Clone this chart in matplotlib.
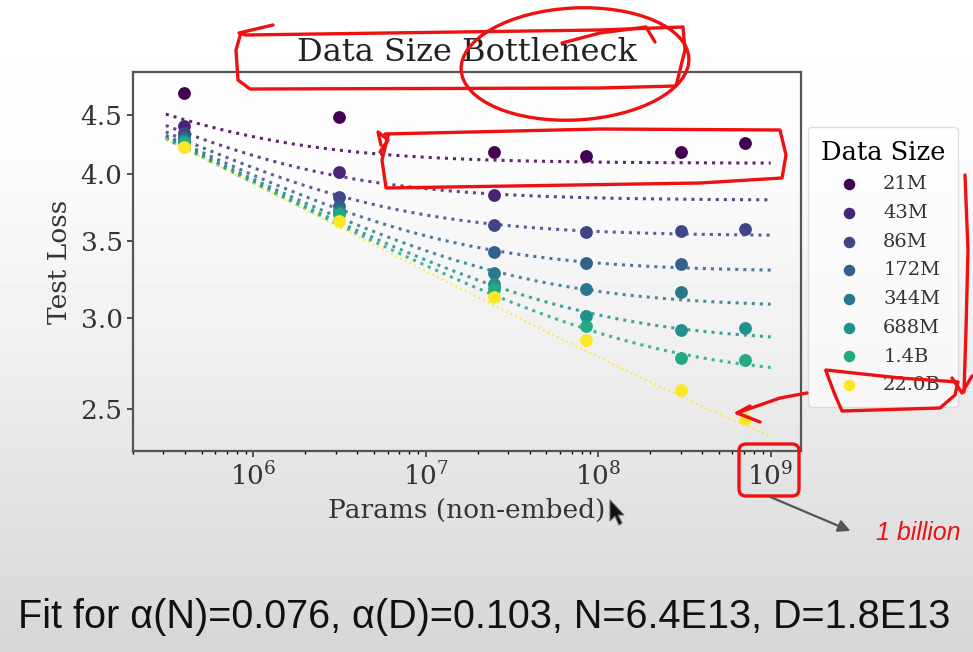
import numpy as np
import matplotlib
matplotlib.use("Agg")
from matplotlib import pyplot as plt
from matplotlib import ticker
from matplotlib.patches import Ellipse, FancyBboxPatch, Polygon

# fit parameters for L(N, D)
ALPHA_N = 0.076
ALPHA_D = 0.103
N_C = 6.4e13
D_C = 1.8e13

# model sizes (non-embedding params)
params = [3.93e5, 3.15e6, 2.5e7, 8.5e7, 3.02e8, 7.08e8]

# dataset sizes in tokens and legend labels
data_sizes = [2.1e7, 4.3e7, 8.6e7, 1.72e8, 3.44e8, 6.88e8, 1.4e9, 2.2e10]
size_labels = ["21M", "43M", "86M", "172M", "344M", "688M", "1.4B", "22.0B"]

# measured test loss, one row per dataset size (nan = no run)
nan = np.nan
loss_21m = [4.70, 4.48, 4.18, 4.14, 4.18, 4.25]
loss_43m = [4.40, 4.01, 3.83, nan, nan, nan]
loss_86m = [4.34, 3.82, 3.61, 3.56, 3.57, 3.58]
loss_172m = [4.30, 3.75, 3.42, 3.35, 3.34, nan]
loss_344m = [4.28, 3.71, 3.28, 3.18, 3.16, nan]
loss_688m = [4.27, 3.70, 3.21, 3.01, 2.93, 2.94]
loss_1_4b = [4.26, 3.69, 3.18, 2.95, 2.77, 2.76]
loss_22b = [4.22, 3.64, 3.13, 2.87, 2.60, 2.45]
losses = [loss_21m, loss_43m, loss_86m, loss_172m,
          loss_344m, loss_688m, loss_1_4b, loss_22b]

y_ticks = [2.5, 3.0, 3.5, 4.0, 4.5]
x_ticks = [1e6, 1e7, 1e8, 1e9]

W, H = 973, 652
plt.rcParams["font.family"] = "DejaVu Serif"
plt.rcParams["mathtext.fontset"] = "dejavuserif"

fig = plt.figure(figsize=(W / 100, H / 100), dpi=100)

# greyish screen background, lighter at the top
bg = fig.add_axes([0, 0, 1, 1], zorder=-10)
rows = np.arange(H)
shade = np.interp(rows, [0, 160, 330, 480, 652], [255, 252, 241, 228, 214]) / 255
bg.imshow(np.repeat(shade[:, None], 4, axis=1), cmap="gray", vmin=0, vmax=1,
          aspect="auto", extent=[0, 1, 0, 1], origin="upper")
bg.set_axis_off()

ax = fig.add_axes([133 / W, 1 - 451 / H, (801 - 133) / W, (451 - 72) / H])
ax.set_facecolor("none")
ax.set_xscale("log")
ax.set_yscale("log")

logd = np.log10(data_sizes)
norm = (logd - logd.min()) / (logd.max() - logd.min())
colors = plt.cm.viridis(norm)

n_fit = np.logspace(np.log10(3.1e5), np.log10(1.0e9), 200)
for d, lab, loss, c in zip(data_sizes, size_labels, losses, colors):
    fit = ((N_C / n_fit) ** (ALPHA_N / ALPHA_D) + D_C / d) ** ALPHA_D
    lw = 1.4 if lab == "22.0B" else 2.2
    ax.plot(n_fit, fit, linestyle=":", color=c, lw=lw, alpha=0.85, zorder=2)
    ax.scatter(params, loss, s=85, color=c, label=lab, zorder=3, linewidths=0)

ax.set_xlim(2.0e5, 1.5e9)
ax.set_ylim(2.30, 4.90)
ax.yaxis.set_major_locator(ticker.FixedLocator(y_ticks))
ax.yaxis.set_major_formatter(ticker.FormatStrFormatter("%.1f"))
ax.yaxis.set_minor_locator(ticker.NullLocator())
ax.xaxis.set_major_locator(ticker.FixedLocator(x_ticks))
ax.xaxis.set_minor_locator(ticker.LogLocator(subs=np.arange(2, 10)))
ax.tick_params(labelsize=19, colors="#333333", length=4, width=1.2)
ax.tick_params(which="minor", length=2.5, width=1.0)
for sp in ax.spines.values():
    sp.set_color("#555555")
    sp.set_linewidth(1.6)

ax.set_title("Data Size Bottleneck", fontsize=23, color="#222222", pad=8)
ax.set_xlabel("Params (non-embed)", fontsize=19, color="#333333", labelpad=6)
ax.set_ylabel("Test Loss", fontsize=19, color="#333333", labelpad=6)

leg = ax.legend(title="Data Size", loc="upper left",
                bbox_to_anchor=(808 / W, 1 - 127 / H),
                bbox_transform=fig.transFigure, borderaxespad=0,
                fontsize=14, title_fontsize=18.5, labelspacing=0.55,
                borderpad=0.65, handlelength=2.5, handletextpad=0.5,
                markerscale=0.9, frameon=True)
leg.get_frame().set_edgecolor("#cccccc")
leg.get_frame().set_facecolor("#ffffff")
leg.get_frame().set_alpha(0.6)
for t in leg.get_texts():
    t.set_color("#333333")

fig.text(18 / W, 1 - 617 / H,
         f"Fit for \u03b1(N)={ALPHA_N}, \u03b1(D)={ALPHA_D}, "
         f"N={N_C:.1E}, D={D_C:.1E}".replace("E+", "E"),
         fontsize=28.5, family="Liberation Sans", color="#111111",
         ha="left", va="center")

# hand-drawn red markup, in pixel coordinates
ov = fig.add_axes([0, 0, 1, 1], zorder=10)
ov.set_xlim(0, W)
ov.set_ylim(H, 0)
ov.set_axis_off()
red = dict(color="#ee1111", lw=2.4, solid_capstyle="round",
           solid_joinstyle="round")

# box and ring round the title
ov.plot([273, 239, 246, 600, 683, 685, 676, 600, 250, 238, 236, 240],
        [25, 33, 35, 30, 27, 50, 86, 88, 89, 80, 50, 36], **red)
ov.add_patch(Ellipse((575, 64), 228, 112, angle=-3, fill=False,
                     ec="#ee1111", lw=2.4))
ov.plot([562, 600, 646, 655], [43, 33, 27, 42], **red)

# box round the 21M row
ov.plot([388, 382, 386, 700, 782, 786, 780, 600, 385],
        [136, 160, 188, 183, 178, 155, 130, 129, 134], **red)
ov.plot([381, 378, 388, 380], [145, 132, 140, 152], **red)

# box round the 22.0B legend entry, side stroke and arrow
ov.plot([826, 835, 842, 940, 955, 958, 900, 826],
        [371, 395, 411, 408, 395, 382, 378, 370], **red)
ov.plot([965, 968, 966, 964], [175, 250, 330, 392], **red)
ov.plot([952, 962, 972], [378, 393, 376], **red)
ov.plot([807, 780, 737], [393, 398, 413], **red)
ov.plot([750, 737, 760], [406, 413, 422], **red)

# 10^9 tick label callout
ov.add_patch(FancyBboxPatch((739, 444), 60, 52,
                            boxstyle="round,pad=0,rounding_size=7",
                            fill=False, ec="#ee1111", lw=2.4))
ov.annotate("", xy=(853, 532), xytext=(768, 496),
            arrowprops=dict(arrowstyle="-|>", color="#555555", lw=1.6,
                            mutation_scale=18))
ov.text(876, 533, "1 billion", color="#ee1111", fontsize=18, style="italic",
        family="Liberation Sans", ha="left", va="center")

# mouse pointer next to the x label
ov.add_patch(Polygon([(610, 500), (610, 521), (615, 516), (619, 525),
                      (622, 523), (618, 515), (624, 515)],
                     closed=True, fc="#111111", ec="#666666", lw=0.8))

fig.savefig("out.png", dpi=100)
